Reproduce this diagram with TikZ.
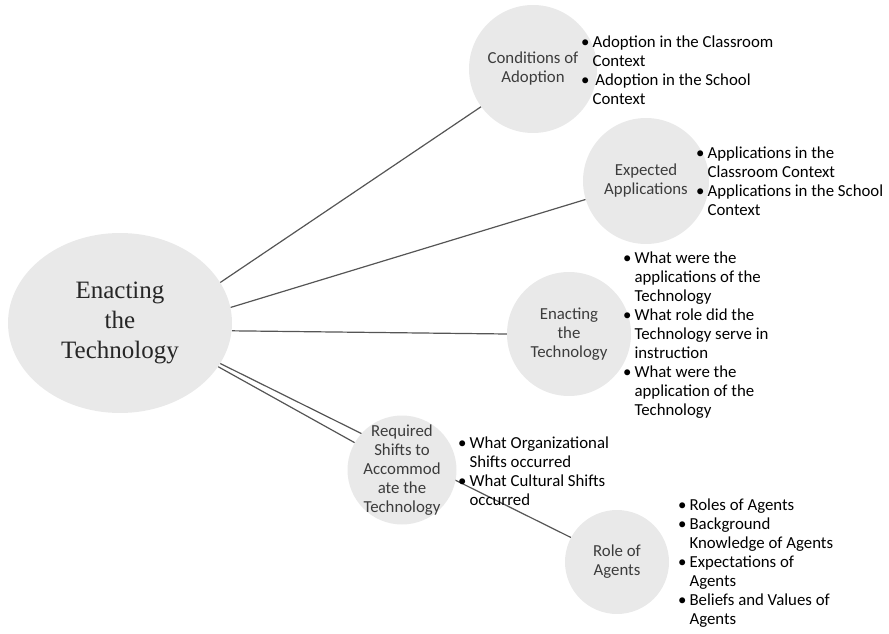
\documentclass[tikz,border=0pt]{standalone}
\usepackage{fontspec}
\setmainfont{Carlito}
\newfontfamily\timesfont{Liberation Serif}
\usepackage{xcolor}
\usetikzlibrary{shapes.geometric,backgrounds}
\definecolor{bubblegray}{RGB}{233, 233, 233}
\definecolor{bubbletext}{RGB}{60, 60, 60}
\definecolor{linkgray}{RGB}{85, 85, 85}
\tikzset{
  bubble/.style={circle, fill=bubblegray, inner sep=0pt, align=center, text=bubbletext, font=\fontsize{16.8}{19}\selectfont},
  points/.style={anchor=base west, inner sep=0pt, text=black, font=\fontsize{16.8}{19}\selectfont},
  link/.style={draw=linkgray, line width=1.2pt}
}
\newcommand{\pts}[1]{\begin{tabular}[t]{@{}l@{\hspace{3pt}}l@{}}#1\end{tabular}}

\begin{document}
\begin{tikzpicture}[x=1pt, y=1pt]
\useasboundingbox (0,0) rectangle (889,633);

% centre of the map
\node[ellipse, fill=bubblegray, minimum width=224pt, minimum height=180pt, inner sep=0pt, align=center, text=black!85, font=\timesfont\fontsize{25}{30}\selectfont] (main) at (120,310) {Enacting\\the\\Technology};

% the five themes
\node[bubble, minimum size=128pt] (cond) at (533,564) {Conditions of\\Adoption};
\node[bubble, minimum size=126pt] (exp) at (646,452) {Expected\\Applications};
\node[bubble, minimum size=124pt] (enact) at (569,299) {Enacting\\the\\Technology};
\node[bubble, minimum size=109pt, inner sep=-12pt] (req) at (402,163) {Required\\Shifts to\\Accommod\\ate the\\Technology};
\node[bubble, minimum size=104pt] (role) at (617,71) {Role of\\Agents};

% what each theme asks
\node[points] (condpts) at (581,585) {\pts{
  • & Adoption in the Classroom\\
    & Context\\
  • & \,Adoption in the School\\
    & Context}};
\node[points] (exppts) at (696,474) {\pts{
  • & Applications in the\\
    & Classroom Context\\
  • & Applications in the School\\
    & Context}};
\node[points] (enactpts) at (623,369) {\pts{
  • & What were the\\
    & applications of the\\
    & Technology\\
  • & What role did the\\
    & Technology serve in\\
    & instruction\\
  • & What were the\\
    & application of the\\
    & Technology}};
\node[points] (reqpts) at (458,185) {\pts{
  • & What Organizational\\
    & Shifts occurred\\
  • & What Cultural Shifts\\
    & occurred}};
\node[points] (rolepts) at (678,123) {\pts{
  • & Roles of Agents\\
  • & Background\\
    & Knowledge of Agents\\
  • & Expectations of\\
    & Agents\\
  • & Beliefs and Values of\\
    & Agents}};

\begin{scope}[on background layer]
\draw[link] (main.22) -- (cond.216);
\draw[link] (main.8) -- (exp.197);
\draw[link] (main.-4) -- (enact.180);
\draw[link] (main.-22) -- (role.152);
\draw[link] (main.-24) -- (req.150);
\end{scope}
\end{tikzpicture}
\end{document}
